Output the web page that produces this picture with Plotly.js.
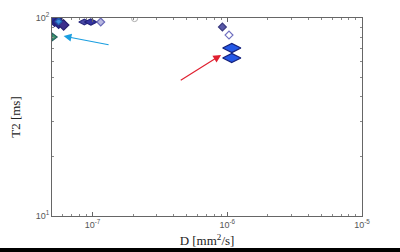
<!DOCTYPE html>
<html><head><meta charset="utf-8">
<script src="https://cdn.plot.ly/plotly-3.0.1.min.js"></script>
<style>html,body{margin:0;padding:0;background:#fff;}#plot{width:400px;height:252px;}</style>
</head><body><div id="plot"></div>
<script>
// Peaks: diffusion D [mm^2/s], T2 [ms]
const peakD    = [5.23e-8, 5.6e-8, 6.1e-8, 5.6e-8, 5.14e-8, 8.7e-8, 9.7e-8, 1.15e-7, 9.2e-7, 1.03e-6, 1.08e-6, 1.08e-6];
const peakT2   = [97.7, 95.5, 92.2, 96, 80.2, 95.5, 95.5, 95.5, 90.1, 82, 70.5, 62.8];
const peakSize = [10, 10, 8, 5, 7, 8, 9, 6, 6, 6, 13, 13];
const peakSym  = ['diamond','diamond','diamond','diamond','triangle-right','diamond-wide','diamond-wide','diamond','diamond','diamond-open','diamond-wide','diamond-wide'];
const peakFill = ['#2b2d95','#2a2a8a','#3b2d8c','#3f8fe0','#3c9a6a','#4a4aa6','#3434a0','#b8b8e0','#5a5aa8','#7070c0','#2458e6','#2458e6'];
const peakLine = ['#22247a','#20207a','#2a1f70','#2060b0','#256060','#2a2a80','#22227a','#6a6ab8','#3a3a80','#6a6ab8','#14207a','#14207a'];
// Outline ring near top edge
const ringD = [2.05e-7], ringT2 = [99.3];
// Arrows: [tail D, tail T2, head D, head T2]
const arrowBlue = [1.35e-7, 73, 6.1e-8, 81];
const arrowRed  = [4.4e-7, 48, 9.0e-7, 65];
// Tick labels
const xTickVals = [1e-7, 1e-6, 1e-5];
const xTickText = ['10<sup>-7</sup>', '10<sup>-6</sup>', '10<sup>-5</sup>'];
const yTickVals = [10, 100];
const yTickText = ['10<sup>1</sup>', '10<sup>2</sup>'];

const traces = [
  {type:'scatter', mode:'markers', x:peakD, y:peakT2,
   marker:{symbol:peakSym, size:peakSize, color:peakFill, opacity:1, line:{color:peakLine, width:1.2}},
   hoverinfo:'skip', showlegend:false, cliponaxis:true},
  {type:'scatter', mode:'markers', x:ringD, y:ringT2,
   marker:{symbol:'circle-open', size:6, color:'#aaaaaa', opacity:1, line:{width:1}},
   hoverinfo:'skip', showlegend:false, cliponaxis:true}
];

function arrow(a, color){
  return {x:Math.log10(a[2]), y:Math.log10(a[3]), ax:Math.log10(a[0]), ay:Math.log10(a[1]),
    xref:'x', yref:'y', axref:'x', ayref:'y', showarrow:true, arrowhead:2, arrowsize:1.3,
    arrowwidth:1.2, arrowcolor:color, text:''};
}

const tickFont = {family:'Liberation Sans, Arial, sans-serif', size:9, color:'#555'};
const titleFont = {family:'Liberation Serif, Times New Roman, serif', size:13, color:'#222'};

const layout = {
  width:400, height:252,
  margin:{l:52, r:38, t:18, b:36},
  paper_bgcolor:'#ffffff', plot_bgcolor:'#ffffff',
  showlegend:false,
  xaxis:{type:'log', range:[Math.log10(5e-8), -5], tickvals:xTickVals, ticktext:xTickText,
    showgrid:false, zeroline:false, showline:true, mirror:'ticks',
    linecolor:'#666', linewidth:1, ticks:'inside', ticklen:4, tickcolor:'#666',
    minor:{ticks:'inside', ticklen:2, tickcolor:'#888', tickvals:[6e-8,7e-8,8e-8,9e-8,2e-7,3e-7,4e-7,5e-7,6e-7,7e-7,8e-7,9e-7,2e-6,3e-6,4e-6,5e-6,6e-6,7e-6,8e-6,9e-6], showgrid:false},
    tickfont:tickFont,
    title:{text:'D [mm<sup>2</sup>/s]', font:titleFont, standoff:7}},
  yaxis:{type:'log', range:[1, 2], tickvals:yTickVals, ticktext:yTickText,
    showgrid:false, zeroline:false, showline:true, mirror:'ticks',
    linecolor:'#666', linewidth:1, ticks:'inside', ticklen:4, tickcolor:'#666',
    minor:{ticks:'inside', ticklen:2, tickcolor:'#888', tickvals:[20,30,40,50,60,70,80,90], showgrid:false},
    tickfont:tickFont,
    title:{text:'T2 [ms]', font:titleFont, standoff:12}},
  annotations:[arrow(arrowBlue,'#1a9ee0'), arrow(arrowRed,'#e02030')],
  shapes:[{type:'rect', xref:'paper', yref:'paper', x0:-0.2, x1:1.2, y0:-0.1616, y1:-0.2, fillcolor:'#000', line:{width:0}, layer:'above'}]
};

Plotly.newPlot('plot', traces, layout, {staticPlot:true, displayModeBar:false});
</script>
</body></html>
